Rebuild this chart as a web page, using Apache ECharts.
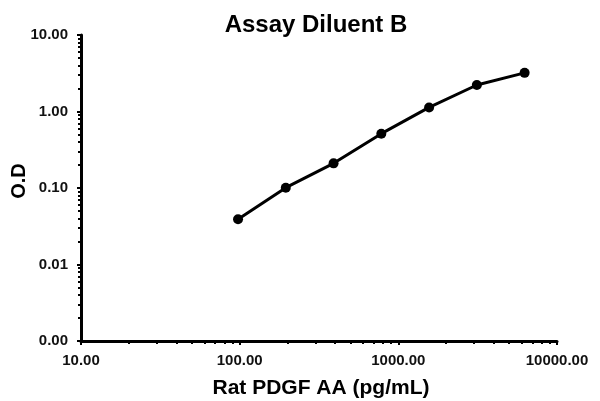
<!DOCTYPE html>
<html lang="en">
<head>
  <meta charset="UTF-8">
  <title>Assay Diluent B</title>
  <style type="text/css">
    * {
      margin: 0;
      padding: 0;
    }
    html, body {
      width: 100%;
      height: 100%;
      overflow: hidden;
      background: #ffffff;
    }
    #main {
      width: 600px;
      height: 401px;
    }
  </style>
  <script type="text/javascript" src="https://cdn.jsdelivr.net/npm/echarts@6/dist/echarts.min.js"></script>
</head>
<body>
<div id="main"></div>
<script type="text/javascript">
  // standard curve, concentration in pg/mL vs O.D
  var concentrations = [97.66, 195.31, 390.63, 781.25, 1562.5, 3125, 6250];
  var odValues = [0.039, 0.101, 0.210, 0.513, 1.13, 2.22, 3.2];
  var xRange = [10, 10000];
  var yRange = [0.001, 10];

  var points = [];
  for (var i = 0; i < concentrations.length; i++) {
    points.push([concentrations[i], odValues[i]]);
  }

  var font = 'Arial, "Liberation Sans", sans-serif';
  var myChart = echarts.init(document.getElementById('main'));

  var option = {
    animation: false,
    title: {
      text: 'Assay Diluent B',
      left: 311,
      top: 8,
      textAlign: 'center',
      textStyle: {
        fontFamily: font,
        fontSize: 24,
        fontWeight: 'bold',
        color: '#000'
      }
    },
    grid: {
      left: 81,
      right: 43,
      top: 35,
      bottom: 60,
      containLabel: false,
      outerBoundsMode: 'none'
    },
    xAxis: {
      type: 'log',
      logBase: 10,
      min: xRange[0],
      max: xRange[1],
      name: 'Rat PDGF AA (pg/mL)',
      nameLocation: 'middle',
      nameGap: 37,
      nameTextStyle: {
        fontFamily: font,
        fontSize: 21,
        fontWeight: 'bold',
        color: '#000',
        padding: [0, 0, 0, 4]
      },
      axisLine: { lineStyle: { color: '#000', width: 3 } },
      axisTick: { length: 4, lineStyle: { color: '#000', width: 2 } },
      minorTick: { show: true, splitNumber: 9, length: 3, lineStyle: { color: '#000', width: 2 } },
      splitLine: { show: false },
      axisLabel: {
        margin: 12,
        fontFamily: font,
        fontSize: 15,
        fontWeight: 'bold',
        color: '#111',
        formatter: function (v) { return v.toFixed(2); }
      }
    },
    yAxis: {
      type: 'log',
      logBase: 10,
      min: yRange[0],
      max: yRange[1],
      name: 'O.D',
      nameLocation: 'middle',
      nameGap: 52,
      nameMoveOverlap: false,
      nameTextStyle: {
        fontFamily: font,
        fontSize: 20,
        fontWeight: 'bold',
        color: '#000',
        padding: [0, 0, 0, 14]
      },
      axisLine: { lineStyle: { color: '#000', width: 3 } },
      axisTick: { length: 4, lineStyle: { color: '#000', width: 2 } },
      minorTick: { show: true, splitNumber: 9, length: 3, lineStyle: { color: '#000', width: 2 } },
      splitLine: { show: false },
      axisLabel: {
        margin: 13,
        fontFamily: font,
        fontSize: 15,
        fontWeight: 'bold',
        color: '#111',
        formatter: function (v) { return v.toFixed(2); }
      }
    },
    series: [
      {
        type: 'line',
        data: points,
        symbol: 'circle',
        symbolSize: 10,
        lineStyle: { color: '#000', width: 3 },
        itemStyle: { color: '#000' }
      }
    ]
  };

  myChart.setOption(option);
</script>
</body>
</html>
